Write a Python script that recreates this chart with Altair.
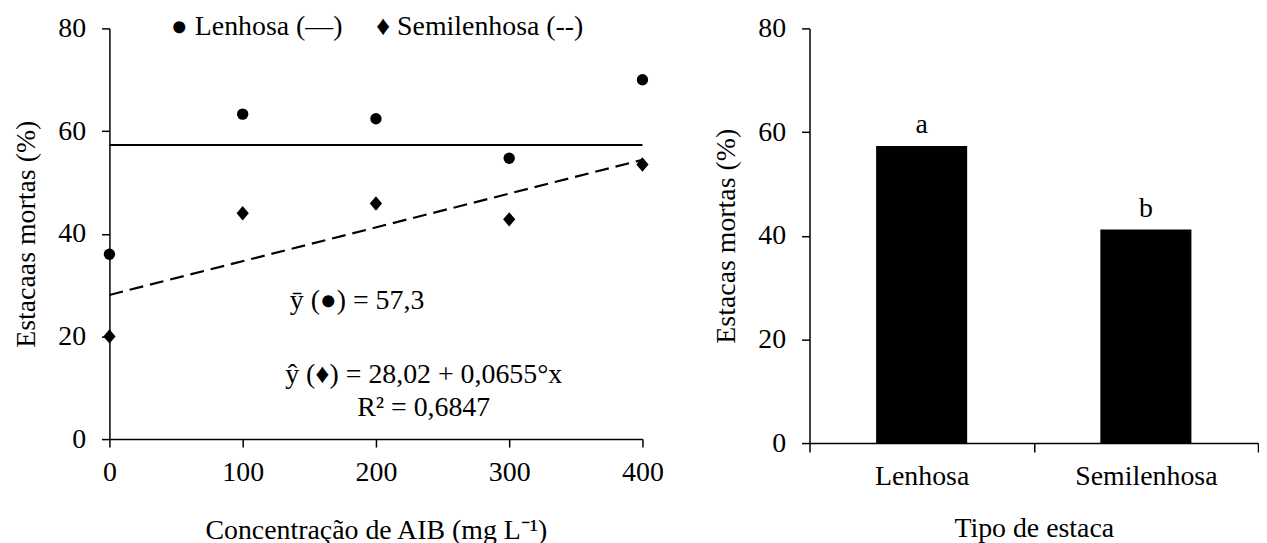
import altair as alt
import pandas as pd

# ---- data ----
conc = [0, 100, 200, 300, 400]
lenhosa = [36.0, 63.3, 62.4, 54.7, 70.0]
semilenhosa = [20.0, 44.0, 45.9, 42.8, 53.5]

tipos = ["Lenhosa", "Semilenhosa"]
medias = [57.3, 41.2]
letras = ["a", "b"]

y_ticks = [0, 20, 40, 60, 80]
legend_labels = ["\u25cf Lenhosa (\u2014)", "\u2666 Semilenhosa (--)"]
eq_mean = "\u0233 (\u25cf) = 57,3"
eq_reg = "\u0177 (\u2666) = 28,02 + 0,0655\u00b0x"
eq_r2 = "R\u00b2 = 0,6847"

FONT = "Liberation Serif"
FS = 28

# ---- left panel ----
df_l = pd.DataFrame({"x": conc, "y": lenhosa})
df_s = pd.DataFrame({"x": conc, "y": semilenhosa})

xscale = alt.Scale(domain=[0, 400], nice=False)
yscale = alt.Scale(domain=[0, 80], nice=False)

xax = alt.Axis(values=conc, title="Concentração de AIB (mg L\u207b\u00b9)", tickSize=8,
               labelPadding=12, titlePadding=30, grid=False, labelFlush=False)
yax = alt.Axis(values=y_ticks, title="Estacaas mortas (%)", tickSize=8,
               labelPadding=16, titlePadding=17, grid=False)

mean_line = alt.Chart(df_l).transform_joinaggregate(m="mean(y)").mark_line(
    color="black", strokeWidth=2).encode(
    x=alt.X("x:Q", scale=xscale, axis=xax),
    y=alt.Y("m:Q", scale=yscale, axis=yax))

reg_line = alt.Chart(df_s).transform_regression("x", "y").mark_line(
    color="black", strokeWidth=2.2, strokeDash=[14, 7]).encode(
    x="x:Q", y="y:Q")

pts_l = alt.Chart(df_l).mark_point(shape="circle", filled=True, size=130,
                                   color="black", opacity=1).encode(x="x:Q", y="y:Q")
pts_s = alt.Chart(df_s).mark_point(shape="M-0.85,0L0,-1L0.85,0L0,1Z", filled=True,
                                   size=210, color="black", opacity=1).encode(x="x:Q", y="y:Q")


def label(text, x, y, align="left"):
    return alt.Chart(pd.DataFrame({"t": [text]})).mark_text(
        font=FONT, fontSize=FS, align=align, baseline="alphabetic", color="black"
    ).encode(x=alt.value(x), y=alt.value(y), text="t:N")


left = alt.layer(
    mean_line, reg_line, pts_l, pts_s,
    label(legend_labels[0], 62, 7),
    label(legend_labels[1], 268, 7),
    label(eq_mean, 249, 282, "center"),
    label(eq_reg, 316, 357, "center"),
    label(eq_r2, 316, 390, "center"),
).properties(width=536, height=413)

# ---- right panel ----
df_b = pd.DataFrame({"tipo": tipos, "v": medias, "l": letras})
bx = alt.X("tipo:N", sort=tipos,
           scale=alt.Scale(paddingInner=0, paddingOuter=0),
           axis=alt.Axis(title="Tipo de estaca", labelAngle=0, tickBand="extent",
                         tickSize=9, labelPadding=11, titlePadding=24))
by = alt.Y("v:Q", scale=alt.Scale(domain=[0, 80], nice=False),
           axis=alt.Axis(values=y_ticks, title="Estacas mortas (%)", tickSize=8,
                         labelPadding=16, titlePadding=17, grid=False))

bars = alt.Chart(df_b).mark_bar(color="black", width=alt.RelativeBandSize(0.406)).encode(x=bx, y=by)
letters = alt.Chart(df_b).mark_text(font=FONT, fontSize=FS, baseline="alphabetic",
                                    dy=-13, color="black").encode(
    x=alt.X("tipo:N", sort=tipos), y="v:Q", text="l:N")

right = alt.layer(bars, letters).properties(width=451, height=417)

chart = alt.hconcat(left, right, spacing=50).properties(
    padding={"left": 5, "top": 4, "right": 0, "bottom": 0},
    background="white",
).configure_view(stroke=None).configure_axis(
    labelFont=FONT, titleFont=FONT, labelFontSize=FS, titleFontSize=FS,
    titleFontWeight="normal", labelColor="black", titleColor="black",
    domainColor="black", tickColor="black", domainWidth=1.5, tickWidth=1.5,
)

chart.save("out.html", embed_options={"renderer": "svg", "actions": False})
